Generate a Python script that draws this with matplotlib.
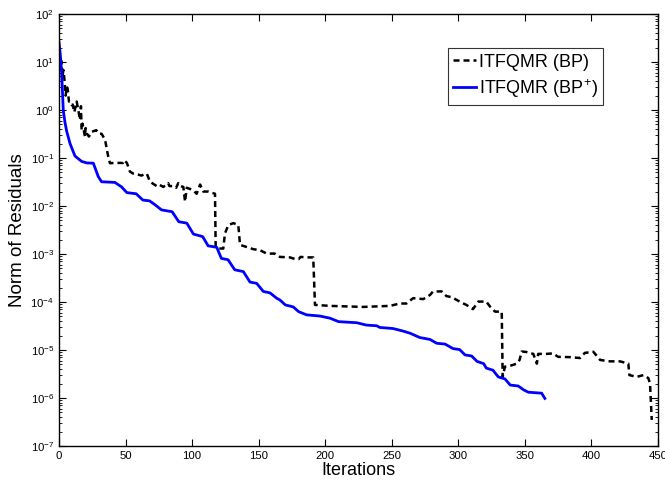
import numpy as np
import matplotlib
matplotlib.use("Agg")
import matplotlib.pyplot as plt
from matplotlib.ticker import LogLocator, NullFormatter, FixedLocator

plt.rcParams['font.family'] = ['Liberation Sans', 'DejaVu Sans']
plt.rcParams['mathtext.default'] = 'regular'

# ITFQMR (BP) - dashed black
bp_iter = [1, 2, 2.6, 3.3, 4, 5, 5.8, 6.5, 7.5, 8.3, 9.5, 10.3, 11.5, 13.3, 14.5,
           15.8, 16.5, 17, 17.7, 19.5, 20, 21, 22.5, 24.5, 28, 30, 32, 34.6, 35.8,
           37, 38.3, 42, 48, 49, 51, 53.3, 56, 59.6, 62, 64.6, 66, 68.4, 70, 73.4,
           75, 78.4, 80, 82, 83, 86, 88, 89.6, 91, 93.4, 94.7, 96, 99.7, 101,
           103.4, 106, 108.4, 112, 117.2, 117.7, 119.6, 123.4, 124.7, 127.2, 131,
           134.7, 136, 141, 146, 151, 156, 162, 166, 173.5, 177, 180, 181.5, 186,
           191, 192.3, 203.6, 228.6, 248.7, 256, 261, 266, 273.7, 278.7, 281,
           287.5, 291, 295, 301, 306, 311, 315, 321, 324, 327.6, 332.6, 333.3,
           335, 339, 344, 346, 347.6, 351, 356.3, 359, 360, 366.4, 371, 375, 384,
           391.4, 395, 401.4, 406.5, 414, 421.5, 427.7, 428.5, 434, 439, 442.7,
           444, 445.3]
bp_res = [12, 10, 5, 6.8, 4.6, 2.0, 3.1, 2.8, 1.5, 1.5, 1.26, 1.3, 0.9, 1.5, 1.0,
          0.62, 1.2, 0.38, 0.52, 0.28, 0.42, 0.32, 0.28, 0.35, 0.38, 0.32, 0.32,
          0.24, 0.16, 0.107, 0.078, 0.079, 0.079, 0.09, 0.079, 0.052, 0.047,
          0.045, 0.043, 0.047, 0.047, 0.032, 0.030, 0.026, 0.028, 0.025, 0.027,
          0.030, 0.026, 0.026, 0.024, 0.030, 0.026, 0.025, 0.0123, 0.024, 0.022,
          0.021, 0.018, 0.028, 0.020, 0.020, 0.018, 0.0014, 0.0013, 0.0013,
          0.0027, 0.0040, 0.0044, 0.0040, 0.00155, 0.0014, 0.00126, 0.0012,
          0.00102, 0.00102, 0.00087, 0.00085, 0.00079, 0.00078, 0.00087, 0.00085,
          0.00085, 8.7e-5, 8.3e-5, 7.9e-5, 8.3e-5, 9.3e-5, 9.3e-5, 1.2e-4,
          1.15e-4, 1.4e-4, 1.66e-4, 1.66e-4, 1.33e-4, 1.26e-4, 1.02e-4, 8.7e-5,
          7.1e-5, 1.02e-4, 1.02e-4, 7.9e-5, 6.3e-5, 6.3e-5, 2.75e-6, 4.5e-6,
          4.7e-6, 5.2e-6, 6.2e-6, 9.3e-6, 9.1e-6, 8.3e-6, 5.2e-6, 8.3e-6, 8.3e-6,
          8.5e-6, 7.2e-6, 7.1e-6, 6.8e-6, 8.7e-6, 9.2e-6, 6.2e-6, 5.8e-6, 5.8e-6,
          5.2e-6, 3.0e-6, 2.75e-6, 3.0e-6, 2.6e-6, 2.0e-6, 3.5e-7]

# ITFQMR (BP+) - solid blue
bpp_iter = [0, 1, 2, 3.2, 4.5, 5.8, 8.3, 12, 17, 20.8, 25.8, 29.5, 32, 42, 47, 51,
            58, 63, 68, 72, 77, 85, 90, 96, 101, 108, 112, 118.5, 122, 127, 132,
            138.5, 143.5, 148.5, 153.5, 158.5, 163.5, 166, 170, 176, 180, 186,
            196, 203.6, 210, 223.7, 231, 238.7, 241, 251, 258, 263.7, 271, 278.7,
            283.8, 290, 296, 301, 305, 310, 314, 319, 321, 326, 330, 335, 339,
            345, 349, 352.6, 362.6, 365]
bpp_res = [26, 14, 6.0, 1.0, 0.55, 0.36, 0.2, 0.11, 0.085, 0.079, 0.078, 0.041,
           0.032, 0.031, 0.025, 0.019, 0.018, 0.0133, 0.0128, 0.0107, 0.0083,
           0.0076, 0.0047, 0.0044, 0.0026, 0.0023, 0.00148, 0.00138, 0.00081,
           0.00076, 0.00047, 0.00043, 0.00026, 0.000245, 0.000166, 0.000155,
           0.00012, 0.00011, 8.7e-5, 7.9e-5, 6.3e-5, 5.4e-5, 5.1e-5, 4.6e-5,
           3.9e-5, 3.7e-5, 3.3e-5, 3.2e-5, 2.95e-5, 2.8e-5, 2.5e-5, 2.24e-5,
           1.82e-5, 1.66e-5, 1.38e-5, 1.33e-5, 1.07e-5, 1.02e-5, 7.9e-6, 7.5e-6,
           5.8e-6, 5.2e-6, 4.2e-6, 3.8e-6, 2.75e-6, 2.5e-6, 1.86e-6, 1.78e-6,
           1.48e-6, 1.32e-6, 1.26e-6, 9.8e-7]

fig = plt.figure(figsize=(6.65, 4.83), dpi=100)
ax = fig.add_axes([0.0887, 0.0766, 0.9008, 0.8944])

ax.semilogy(bp_iter, bp_res, color='black', linewidth=1.8,
            linestyle=(0, (2.4, 1.6)), label='ITFQMR (BP)')
ax.semilogy(bpp_iter, bpp_res, color='#0000ff', linewidth=2.0,
            label='ITFQMR (BP$^{+}$)')

ax.set_xlim(0, 450)
ax.set_ylim(1e-7, 1e2)
ax.xaxis.set_major_locator(FixedLocator(np.arange(0, 451, 50)))
ax.yaxis.set_major_locator(LogLocator(base=10, numticks=20))
ax.yaxis.set_minor_locator(LogLocator(base=10, subs=np.arange(2, 10), numticks=20))
ax.yaxis.set_minor_formatter(NullFormatter())

ax.tick_params(which='both', direction='in', top=True, right=True,
               labelsize=8.2, colors='black')
ax.tick_params(which='major', length=5, width=0.8)
ax.tick_params(which='minor', length=2.5, width=0.6)
for s in ax.spines.values():
    s.set_linewidth(1.0)

ax.set_xlabel('Iterations', fontsize=13, labelpad=1)
ax.set_ylabel('Norm of Residuals', fontsize=13.5, labelpad=3)

leg = ax.legend(loc='upper right', bbox_to_anchor=(0.908, 0.921), fontsize=13,
                frameon=True, fancybox=False, edgecolor='black',
                handlelength=1.25, handletextpad=0.15, borderpad=0.3,
                labelspacing=0.35, borderaxespad=0)
leg.get_frame().set_linewidth(0.8)

fig.savefig('out.png', dpi=100)
